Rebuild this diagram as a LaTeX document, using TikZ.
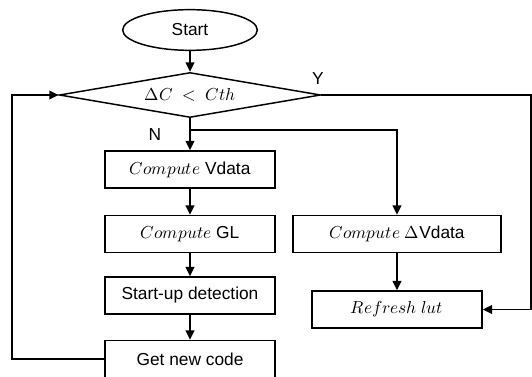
\documentclass[tikz,border=0pt]{standalone}
\usepackage{fontspec}
\usepackage{unicode-math}
\setmainfont{Liberation Sans}
\usepackage{tikz}
\usetikzlibrary{shapes.geometric, arrows.meta, positioning}

\tikzset{
  box/.style={draw, rectangle, minimum width=127.5pt, minimum height=27.75pt, inner sep=0pt},
  flow/.style={-{Triangle[length=7pt,width=6.5pt]}},
}

\begin{document}
\begin{tikzpicture}[x=0.75pt, y=-0.75pt, line width=1.1pt, every node/.style={font=\fontsize{13}{15}\selectfont}]
    \useasboundingbox (0,0) rectangle (532,377);
    % Start and the test
    \node[draw, ellipse, minimum width=101pt, minimum height=30.5pt, inner sep=0pt] (start) at (190,30) {Start};
    \node[draw, diamond, aspect=5.8, minimum width=196pt, minimum height=33.75pt, inner sep=0pt] (test) at (190,95) {$\Delta C\ <\ Cth$};
    \node (no) at (155,135) {N};
    \node (yes) at (318,79) {Y};

    % Left column
    \node[box] (vdata) at (190,169.5) {$Compute$ Vdata};
    \node[box] (gl) at (190,234) {$Compute$ GL};
    \node[box] (detect) at (190,295.5) {Start-up detection};
    \node[box] (newcode) at (190,359) {Get new code};

    % Right column
    \node[box, minimum width=156pt] (dvdata) at (397,234) {$Compute$ $\Delta$Vdata};
    \node[box] (lut) at (397,309.5) {$Refresh\ lut$};

    % Connectors
    \coordinate (split) at (190,130);
    \coordinate (loop) at (12,359);
    \coordinate (edge) at (531,95);
    \draw[flow] (start.south) -- (test.north);
    \draw (test.south) -- (split);
    \draw[flow] (split) -- (vdata.north);
    \draw[flow] (split) -| (dvdata.north);
    \draw[flow] (vdata.south) -- (gl.north);
    \draw[flow] (gl.south) -- (detect.north);
    \draw[flow] (detect.south) -- (newcode.north);
    \draw[flow] (dvdata.south) -- (lut.north);
    \draw[flow] (newcode.west) -- (loop) |- (test.west);
    \draw[flow] (test.east) -- (edge) |- (lut.east);
\end{tikzpicture}
\end{document}
